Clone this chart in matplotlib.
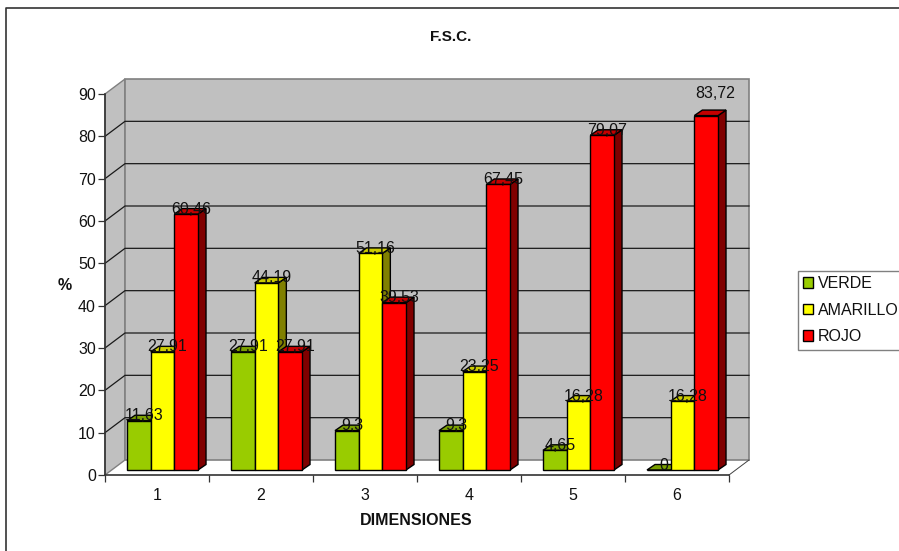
import matplotlib
matplotlib.use('Agg')
import matplotlib.pyplot as plt
from matplotlib.lines import Line2D
from matplotlib.patches import Polygon, Patch

plt.rcParams['font.family'] = ['Liberation Sans', 'DejaVu Sans']

dimensiones = ['1', '2', '3', '4', '5', '6']
verde = [11.63, 27.91, 9.3, 9.3, 4.65, 0]
amarillo = [27.91, 44.19, 51.16, 23.25, 16.28, 16.28]
rojo = [60.46, 27.91, 39.53, 67.45, 79.07, 83.72]
y_ticks = list(range(0, 100, 10))

W, H = 899, 551
fs = 11.5
fig = plt.figure(figsize=(W / 100, H / 100), dpi=100, facecolor='white')
ax = fig.add_axes([105 / W, 1 - 475 / H, 624 / W, 381 / H])
ax.patch.set_visible(False)
ax.set_xlim(0, 6)
ax.set_ylim(0, 90)

# pixel sizes turned into data units, for the fake 3D depth
px_x = 6 / 624
px_y = 90 / 381
wall_dx, wall_dy = 20 * px_x, 15 * px_y
bar_dx, bar_dy = 8 * px_x, 5.5 * px_y
floor_y = 5 * px_y
bar_w = 23.67 * px_x
bar_start = 22 * px_x

# walls and floor
wall_edge = '#808080'
ax.add_patch(Polygon([(0, 0), (wall_dx, wall_dy), (wall_dx, 90 + wall_dy), (0, 90)],
                     fc='#c0c0c0', ec=wall_edge, lw=1, clip_on=False, zorder=1))
ax.add_patch(Polygon([(wall_dx, wall_dy), (6 + wall_dx, wall_dy), (6 + wall_dx, 90 + wall_dy), (wall_dx, 90 + wall_dy)],
                     fc='#c0c0c0', ec=wall_edge, lw=1.2, clip_on=False, zorder=1))
ax.plot([6, 6 + wall_dx], [0, wall_dy], color='#404040', lw=0.7, clip_on=False, zorder=1)
for v in y_ticks[1:-1]:
    ax.plot([0, wall_dx, 6 + wall_dx], [v, v + wall_dy, v + wall_dy],
            color='#1a1a1a', lw=0.9, clip_on=False, zorder=1.5)

series = [
    ('VERDE', verde, '#99cc00', '#7a9f00', '#4d6600'),
    ('AMARILLO', amarillo, '#ffff00', '#cccc00', '#808000'),
    ('ROJO', rojo, '#ff0000', '#c40000', '#800000'),
]

z = 3
for j, (name, vals, front, top, side) in enumerate(series):
    xs = [i + bar_start + j * bar_w for i in range(len(vals))]
    bars = ax.bar(xs, vals, width=bar_w, bottom=floor_y, align='edge', color=front,
                  edgecolor='black', linewidth=1.0, clip_on=False, zorder=z + 2)
    for b in bars:
        x0, x1 = b.get_x(), b.get_x() + b.get_width()
        y0, y1 = b.get_y(), b.get_y() + b.get_height()
        ax.add_patch(Polygon([(x1, y0), (x1 + bar_dx, y0 + bar_dy), (x1 + bar_dx, y1 + bar_dy), (x1, y1)],
                             fc=side, ec='black', lw=1.0, clip_on=False, zorder=z))
        ax.add_patch(Polygon([(x0, y1), (x0 + bar_dx, y1 + bar_dy), (x1 + bar_dx, y1 + bar_dy), (x1, y1)],
                             fc=top, ec='black', lw=1.0, clip_on=False, zorder=z + 1))
        # value label, Spanish decimal comma
        val = y1 - floor_y
        off_x, off_y = 5, 5
        if name == 'ROJO' and val == max(rojo):
            off_x, off_y = 9.5, 22
        ax.annotate(f'{val:.2f}'.rstrip('0').rstrip('.').replace('.', ','),
                    ((x0 + x1) / 2, y1), xytext=(off_x * 0.72, off_y * 0.72),
                    textcoords='offset points', ha='center', va='center',
                    fontsize=fs, color='#111111', zorder=50, annotation_clip=False)
    z += 3

# axes
for s in ['top', 'right']:
    ax.spines[s].set_visible(False)
for s in ['left', 'bottom']:
    ax.spines[s].set_color('#333333')
    ax.spines[s].set_linewidth(1.2)
    ax.spines[s].set_zorder(2)
ax.set_yticks(y_ticks)
ax.tick_params(axis='y', length=5, width=0.9, pad=1.5, labelsize=fs, color='#333333', labelcolor='#111111')
ax.set_xticks(range(7))
ax.set_xticklabels([])
ax.tick_params(axis='x', which='major', length=5, width=0.9, color='#333333')
ax.set_xticks([i + 0.5 for i in range(6)], minor=True)
ax.set_xticklabels(dimensiones, minor=True)
ax.tick_params(axis='x', which='minor', length=0, pad=9.5, labelsize=fs, labelcolor='#111111')

ax.set_xlabel('DIMENSIONES', fontsize=fs, fontweight='bold', color='#111111')
ax.xaxis.set_label_coords((416 - 105) / 624, -38 / 381, transform=ax.transAxes)
ax.set_ylabel('%', fontsize=fs, fontweight='bold', rotation=0, color='#111111', va='center', ha='center')
ax.yaxis.set_label_coords((65 - 105) / 624, (475 - 285) / 381, transform=ax.transAxes)
fig.suptitle('F.S.C.', x=451 / W, y=1 - 37 / H, fontsize=11, fontweight='bold', color='#111111', va='center')

handles = [Patch(facecolor=s[2], edgecolor='black', linewidth=1.0, label=s[0]) for s in series]
fig.legend(handles=handles, loc='upper left', bbox_to_anchor=(798 / W, 1 - 271 / H), borderaxespad=0,
           fontsize=fs, frameon=True, fancybox=False, framealpha=1, edgecolor='#808080',
           labelspacing=0.72, handlelength=0.62, handleheight=0.62, handletextpad=0.31,
           borderpad=0.33, labelcolor='#111111')

# chart area border, only the left and top edges fall inside the image
fig.add_artist(Line2D([6 / W, 6 / W, 1], [0, 1 - 8 / H, 1 - 8 / H], color='#333333', lw=1.2,
                      transform=fig.transFigure))

fig.savefig('out.png', dpi=100)
